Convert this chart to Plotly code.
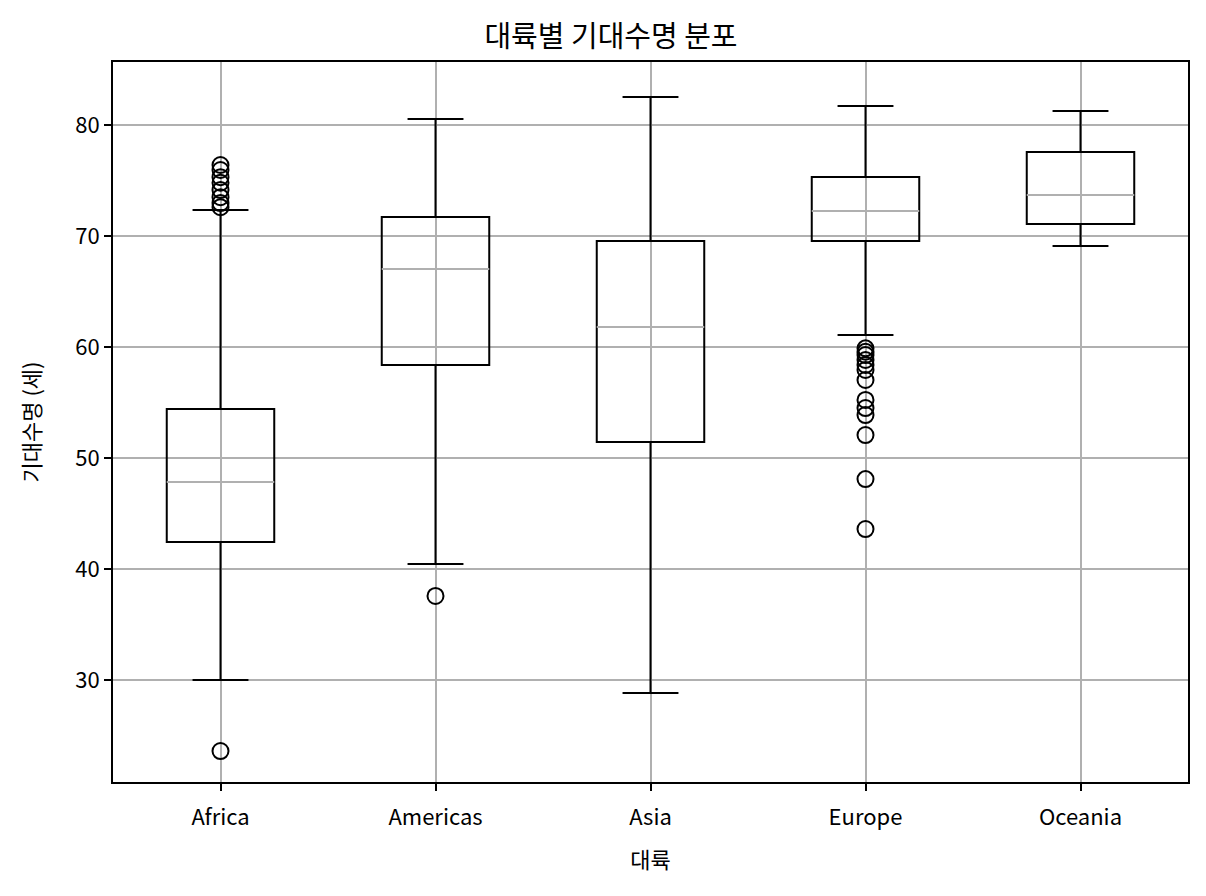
import plotly.graph_objects as go

# continents and box statistics
continents = ["Africa", "Americas", "Asia", "Europe", "Oceania"]
q1 = [42.43, 58.38, 51.44, 69.55, 71.08]
median = [47.84, 67.03, 61.80, 72.25, 73.69]
q3 = [54.41, 71.71, 69.55, 75.32, 77.57]
lower_whisker = [30.00, 40.45, 28.83, 61.08, 69.10]
upper_whisker = [72.34, 80.54, 82.52, 81.71, 81.26]

# outliers per continent
outlier_continent = (
    ["Africa"] * 9
    + ["Americas"]
    + ["Europe"] * 13
)
outlier_value = [
    76.40, 75.95, 75.30, 74.80, 74.14, 73.50, 72.97, 72.60, 23.60,
    37.57,
    59.88, 59.58, 59.28, 58.83, 58.38, 57.93, 57.03, 55.23, 54.50, 53.87,
    52.07, 48.10, 43.60,
]

FONT = "Noto Sans CJK KR"
BOX_W = 0.5

fig = go.Figure()
fig.add_trace(go.Box(
    x=continents,
    q1=q1,
    median=median,
    q3=q3,
    lowerfence=lower_whisker,
    upperfence=upper_whisker,
    width=BOX_W,
    whiskerwidth=0.52,
    fillcolor="rgba(0,0,0,0)",
    line=dict(color="black", width=2),
    boxpoints=False,
    showlegend=False,
    hoverinfo="skip",
))
fig.add_trace(go.Scatter(
    x=outlier_continent,
    y=outlier_value,
    mode="markers",
    marker=dict(symbol="circle-open", size=16, color="black",
                line=dict(color="black", width=2)),
    showlegend=False,
))

# grey median lines like matplotlib's default
for i, m in enumerate(median):
    fig.add_shape(type="line", xref="x", yref="y",
                  x0=i - BOX_W / 2, x1=i + BOX_W / 2, y0=m, y1=m,
                  line=dict(color="#b0b0b0", width=2))

# the page adds ~8px body margin, so the margins are shifted to compensate
fig.update_layout(
    width=1206,
    height=896,
    margin=dict(l=105, r=26, t=54, b=122),
    paper_bgcolor="white",
    plot_bgcolor="white",
    font=dict(family=FONT, size=22, color="black"),
    title=dict(text="대륙별 기대수명 분포", x=0.5, xanchor="center",
               y=0.9676, yanchor="middle", font=dict(size=29)),
)
fig.update_xaxes(
    categoryorder="array", categoryarray=continents,
    range=[-0.5, 4.5],
    showgrid=True, gridcolor="#b0b0b0", gridwidth=1.5,
    showline=True, linecolor="black", linewidth=2, mirror=True,
    ticks="outside", ticklen=7, tickwidth=2, tickcolor="black",
    ticklabelstandoff=8,
    title=dict(text="대륙", font=dict(size=22), standoff=22),
    zeroline=False,
)
fig.update_yaxes(
    range=[20.81, 85.68],
    tickvals=[30, 40, 50, 60, 70, 80],
    showgrid=True, gridcolor="#b0b0b0", gridwidth=1.5,
    showline=True, linecolor="black", linewidth=2, mirror=True,
    ticks="outside", ticklen=7, tickwidth=2, tickcolor="black",
    title=dict(text="기대수명 (세)", font=dict(size=22), standoff=28),
    zeroline=False,
)

fig.write_html("out.html")
